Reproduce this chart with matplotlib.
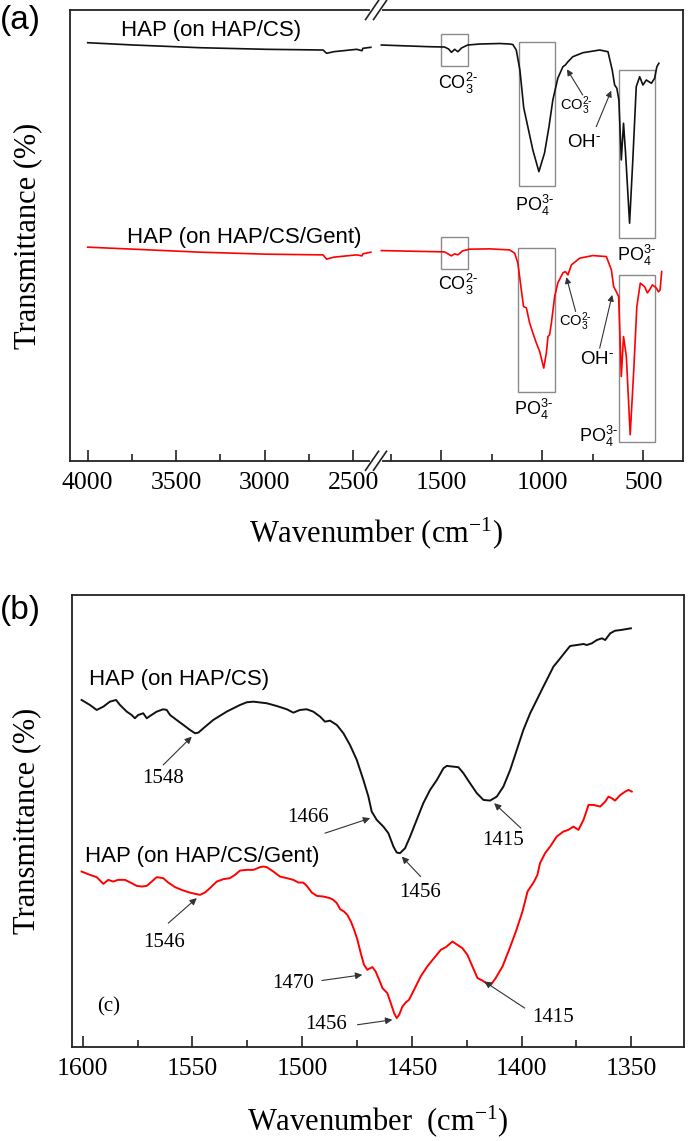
import numpy as np
import matplotlib
matplotlib.use('Agg')
import matplotlib.pyplot as plt
from matplotlib.patches import Rectangle

serif = ['Liberation Serif', 'DejaVu Serif']
sans = ['Liberation Sans', 'DejaVu Sans']
plt.rcParams['font.family'] = serif
plt.rcParams['mathtext.fontset'] = 'custom'
plt.rcParams['mathtext.rm'] = 'Liberation Serif'
plt.rcParams['mathtext.sf'] = 'Liberation Sans'
plt.rcParams['mathtext.it'] = 'Liberation Serif:italic'
plt.rcParams['mathtext.bf'] = 'Liberation Serif:bold'

# ---------------- panel (a): full FTIR spectra (transmittance, a.u.) ----------------
# high wavenumber part (left of the axis break)
wn_a_hi = [4000, 3740, 3365, 2990, 2670, 2650, 2610, 2480, 2450, 2445, 2400]
cs_a_hi = [418.3, 416, 413.3, 411.7, 411, 407.7, 409.3, 411.7, 410.3, 412.7, 413.7]
gent_a_hi = [213.7, 211.7, 208.7, 206.7, 206, 201.7, 203.7, 206, 205, 207, 208.7]

# low wavenumber part (right of the axis break)
wn_cs_lo = [1797, 1558, 1484, 1464, 1450, 1434, 1418, 1400, 1370, 1310, 1211, 1162,
            1146, 1129, 1111, 1092, 1079, 1047, 1017, 989, 967, 948, 923, 898, 886,
            873, 849, 799, 716, 675, 654, 642, 631, 621, 609, 598, 588, 568, 552,
            535, 518, 502, 485, 460, 444, 433, 423]
cs_lo = [416, 414.3, 414, 412, 408.7, 411.7, 409.3, 413, 416, 417, 417.5, 417,
         416.5, 411, 391, 353, 341, 311, 289.3, 308, 334.3, 361, 383, 394.3, 396,
         399.3, 404.3, 408.3, 411, 409.3, 391, 376, 372.7, 361, 301, 337.7, 308,
         237.7, 301, 374.3, 384.3, 376, 381, 377.7, 382.7, 394.3, 397.7]

wn_gent_lo = [1797, 1558, 1484, 1450, 1434, 1418, 1395, 1360, 1261, 1162, 1137, 1121,
              1104, 1093, 1079, 1063, 1047, 1030, 1013, 993, 980, 972, 964, 955, 939,
              923, 898, 886, 873, 856, 815, 750, 683, 658, 647, 634, 622, 609, 598,
              584, 565, 548, 532, 515, 494, 480, 469, 455, 436, 425, 417, 409]
gent_lo = [210.3, 209.3, 209, 205, 207, 206, 210, 211.7, 212, 211, 207.7, 197.7,
           171, 154.3, 153, 138, 128, 118, 109.3, 92.7, 108, 124.3, 126, 138, 164.3,
           178, 188, 189.3, 186, 196, 202.7, 205.3, 204.3, 191, 174.3, 169.3, 164.3,
           84.3, 124.3, 104.3, 26, 88, 154.3, 177.7, 174.3, 168, 171, 176, 173, 169,
           171, 189.3]

# band boxes: (wn left, wn right, T bottom, T top)
boxes_cs = [(1500, 1368, 395.3, 427), (1117, 938, 275, 419.3), (622, 441, 222.7, 391)]
boxes_gent = [(1500, 1368, 192, 223.7), (1121, 939, 68.3, 212.7), (622, 441, 18.3, 186)]

# ---------------- panel (b): 1600-1350 cm-1 region ----------------
wn_b_cs = [1600.5, 1596.7, 1593.6, 1590.6, 1587.6, 1584.8, 1583, 1579.9, 1577.7, 1576.2,
           1574.7, 1572.4, 1570.8, 1569.3, 1566.3, 1563.3, 1561.7, 1560.2, 1557.2, 1554.1,
           1551.1, 1548.8, 1547.3, 1545, 1540.5, 1534.4, 1528.3, 1525.2, 1522.2, 1516.1,
           1511.6, 1507, 1504, 1501, 1497.9, 1494.9, 1491.8, 1489.6, 1487.3, 1484.2,
           1481.2, 1478.2, 1475.1, 1472.1, 1469.8, 1468.3, 1466, 1463, 1460.7, 1458.4,
           1456.9, 1455.4, 1453.1, 1450.8, 1447.8, 1444.8, 1441.7, 1438.6, 1435.6, 1434.1,
           1431.1, 1428.8, 1426.5, 1423.5, 1420.4, 1417.4, 1414.4, 1411.3, 1408.3, 1405.2,
           1402.2, 1399.2, 1396.1, 1393.1, 1390.1, 1385.5, 1382.4, 1379.4, 1377.9, 1374.8,
           1371.8, 1370.3, 1368, 1365.7, 1363.4, 1361.9, 1359.6, 1357.4, 1354.8, 1350.2]
t_b_cs = [347, 342, 337, 340.3, 345.3, 347, 342, 335.3, 332, 328.7,
          332, 333.7, 328.7, 331, 335.3, 337.7, 337, 332, 327, 322,
          317, 313.7, 314.3, 318.7, 327, 335.3, 342, 344.7, 345.3, 343.7,
          341, 337.7, 334.3, 337, 337.7, 335.3, 330.3, 325.3, 326.3, 322,
          313.7, 302, 287, 267, 250.3, 235.3, 227, 220.3, 213.7, 200.3,
          194.3, 193.7, 198.7, 210.3, 227, 243.7, 257, 267, 278.7, 281,
          280.3, 279.7, 273.7, 263.7, 253.7, 247, 246.3, 250.3, 260.3, 277,
          297, 317, 333.7, 347, 360.3, 380.3, 388.7, 397, 401, 402,
          403, 402, 403.7, 407, 408.7, 407, 413.7, 416.3, 417, 418.7]

wn_b_gent = [1600.5, 1596.7, 1593.6, 1590.6, 1588.3, 1586.1, 1583.8, 1580.7, 1577.7, 1575.4,
             1573.1, 1570.8, 1568.5, 1566.3, 1563.3, 1561, 1557.9, 1554.9, 1551.9, 1548.8,
             1546.5, 1544.3, 1542, 1538.9, 1535.9, 1532.9, 1530.6, 1528.3, 1525.2, 1522.2,
             1519.2, 1517.7, 1516.1, 1513.1, 1510.1, 1507, 1504, 1501.7, 1499.5, 1497.9,
             1495.6, 1493.3, 1490.3, 1487.3, 1485.8, 1484.2, 1482.7, 1480.9, 1479.4, 1477.8,
             1476.3, 1474.8, 1473.3, 1471.8, 1470.3, 1468, 1466.5, 1464.9, 1463.4, 1461.2,
             1459.6, 1458.1, 1456.9, 1455.8, 1454.3, 1452.8, 1451.3, 1449, 1446, 1443,
             1439.9, 1436.8, 1434.5, 1431.5, 1429.3, 1427, 1424.7, 1422.4, 1420.1, 1417.9,
             1415.6, 1414, 1411.8, 1408.7, 1405.7, 1402.6, 1399.6, 1397.3, 1394.3, 1392.8,
             1391.6, 1389.3, 1387, 1384, 1381, 1378.7, 1376.4, 1374.1, 1371.8, 1369.5,
             1367.3, 1364.2, 1361.9, 1360.4, 1358.9, 1357.4, 1355, 1352.8, 1351.3, 1349.8]
t_b_gent = [175.3, 172, 169.7, 163, 167, 165.3, 167, 167, 163.7, 161,
            160.3, 161, 165.3, 169.7, 168.7, 164.3, 159.7, 157, 154.7, 153,
            152, 154.3, 158.7, 165.3, 167.7, 168.7, 172, 176.3, 177, 177,
            179.7, 180.3, 179.7, 175.3, 170.3, 168.7, 167, 164.3, 164.3, 161,
            154.3, 151, 150.3, 148.7, 147, 143.7, 137.7, 135.3, 132, 125.3,
            117, 107, 93.7, 82, 77, 79.7, 75.3, 67, 58.7, 53.7,
            43.7, 33.7, 28.7, 32, 40.3, 44.3, 47, 57, 70.3, 80.3,
            88.7, 97, 99.7, 105.3, 102, 98.7, 92, 80.3, 68.7, 66.3,
            63, 62, 68.7, 80.3, 97, 115.3, 135.3, 155.3, 165.3, 172,
            183.7, 193.7, 200.3, 210.3, 215.3, 217, 220.3, 217, 227, 242,
            242, 240.3, 245.3, 250.3, 248.7, 246.3, 252, 255.3, 257, 255.3]

# peak labels in (b): text, text position, arrow start, arrow tip
peak_text = ['1548', '1466', '1456', '1415', '1546', '1470', '1456', '1415']
peak_text_xy = [(1563.6, 268), (1497.5, 229.5), (1446.3, 154), (1408.3, 206),
                (1562.9, 104.5), (1504, 63.7), (1489.2, 22), (1385.6, 29)]
peak_arrow_from = [(1563.3, 282), (1489.6, 213.7), (1446, 170.3), (1400.3, 218.7),
                   (1561, 123.7), (1491, 66.3), (1474.8, 22), (1398.6, 38.7)]
peak_arrow_to = [(1550.3, 310.3), (1469, 228.7), (1454.6, 190.3), (1412.5, 243.7),
                 (1548, 148.7), (1472.6, 72), (1458.9, 27), (1417, 65.3)]


# broken wavenumber axis for (a): 4100-2390 and 1840-305 on one axis
def fwd(w):
    w = np.asarray(w, dtype=float)
    lo = (np.minimum(w, 1840) - 305) * 0.202
    hi = 310.1 + (np.maximum(w, 2390) - 2390) * 0.177
    return np.where(w < 2115, lo, hi)


def inv(u):
    u = np.asarray(u, dtype=float)
    return np.where(u < 310.1, 305 + u / 0.202, 2390 + (u - 310.1) / 0.177)


black = '#111111'
red = '#ff0000'
boxc = '#8a8a8a'
arrc = '#333333'

fig = plt.figure(figsize=(6.88, 11.41), dpi=100)
ax1 = fig.add_axes([0.1017, 0.5962, 0.8906, 0.395])
ax2 = fig.add_axes([0.1042, 0.0826, 0.890, 0.3959])

# ---- panel (a) ----
ax1.set_xscale('function', functions=(fwd, inv))
ax1.plot(wn_a_hi, cs_a_hi, color=black, lw=1.2)
ax1.plot(wn_cs_lo, cs_lo, color=black, lw=1.2)
ax1.plot(wn_a_hi, gent_a_hi, color=red, lw=1.2)
ax1.plot(wn_gent_lo, gent_lo, color=red, lw=1.2)
for (w0, w1, t0, t1) in boxes_cs + boxes_gent:
    ax1.add_patch(Rectangle((w1, t0), w0 - w1, t1 - t0, fill=False,
                            edgecolor=boxc, lw=1.0))
ax1.set_xlim(4100, 305)
ax1.set_ylim(0, 451)
ax1.set_xticks([4000, 3500, 3000, 2500, 1500, 1000, 500])
ax1.set_xticks([3750, 3250, 2750, 1750, 1250, 750], minor=True)
ax1.set_xticklabels(['4000', '3500', '3000', '2500', '1500', '1000', '500'])
ax1.xaxis.set_minor_formatter(matplotlib.ticker.NullFormatter())

# ---- panel (b) ----
ax2.plot(wn_b_cs, t_b_cs, color=black, lw=1.4)
ax2.plot(wn_b_gent, t_b_gent, color=red, lw=1.4)
ax2.set_xlim(1605, 1326)
ax2.set_ylim(0, 452)
ax2.set_xticks([1600, 1550, 1500, 1450, 1400, 1350])
ax2.set_xticks([1575, 1525, 1475, 1425, 1375], minor=True)
ax2.set_xticklabels(['1600', '1550', '1500', '1450', '1400', '1350'])

for ax in (ax1, ax2):
    for s in ax.spines.values():
        s.set_linewidth(1.3)
        s.set_color('#222222')
    ax.tick_params(axis='x', which='both', direction='in', top=False, pad=8,
                   labelsize=18.5, width=1.2, color='#222222',
                   labelfontfamily='Liberation Serif')
    ax.tick_params(axis='x', which='major', length=8)
    ax.tick_params(axis='x', which='minor', length=5)
    ax.tick_params(axis='y', which='both', left=False, labelleft=False)

# axis break marks
for yb in (0, 1):
    ax1.plot([0.493, 0.506], [yb, yb], color='white', lw=3, transform=ax1.transAxes,
             clip_on=False, zorder=5)
    for xc in (0.493, 0.506):
        ax1.plot([xc - 0.0106, xc + 0.0106], [yb - 0.021, yb + 0.021], color='#222222',
                 lw=1.2, transform=ax1.transAxes, clip_on=False, zorder=6)

ax1.text(3814, 431, 'HAP (on HAP/CS)', family=sans, fontsize=16, ha='left', va='center')
ax1.text(3780, 223, 'HAP (on HAP/CS/Gent)', family=sans, fontsize=16, ha='left', va='center')

co3 = r'$\mathsf{CO_3^{2\text{-}}}$'
po4 = r'$\mathsf{PO_4^{3\text{-}}}$'
oh = r'$\mathsf{OH^{\text{-}}}$'
ion_labels = [(1417, 378, co3, 13), (1038, 255, po4, 13), (830, 355, co3, 10.5),
              (795, 318, oh, 13.5), (533, 205, po4, 13),
              (1419, 176, co3, 13), (1043, 51, po4, 13), (838, 139, co3, 10.5),
              (731, 101, oh, 13.5), (721, 24.3, po4, 13)]
for (w, t, s, fs) in ion_labels:
    ax1.text(w, t, s, fontsize=fs, ha='center', va='center')

ion_arrows = [((800, 366), (878, 391.7)), ((733, 334.3), (659, 370.3)),
              ((835, 149.3), (881, 183.7)), ((716, 112.7), (654, 166))]
for (p0, p1) in ion_arrows:
    ax1.annotate('', xy=p1, xytext=p0,
                 arrowprops=dict(arrowstyle='-|>', color=arrc, lw=0.8,
                                 mutation_scale=9, shrinkA=0, shrinkB=0))

ax1.set_xlabel(r'Wavenumber (cm$^{-1}$)', fontsize=22)
ax1.xaxis.set_label_coords(0.5, -0.12)
ax1.set_ylabel('Transmittance (%)', fontsize=22)
ax1.yaxis.set_label_coords(-0.045, 0.5)

ax2.text(1597, 367, 'HAP (on HAP/CS)', family=sans, fontsize=16, ha='left', va='center')
ax2.text(1599, 190, 'HAP (on HAP/CS/Gent)', family=sans, fontsize=16, ha='left', va='center')
ax2.text(1588.3, 40, '(c)', fontsize=15, ha='center', va='center')

for s, pt, p0, p1 in zip(peak_text, peak_text_xy, peak_arrow_from, peak_arrow_to):
    ax2.text(pt[0], pt[1], s, fontsize=15, ha='center', va='center')
    ax2.annotate('', xy=p1, xytext=p0,
                 arrowprops=dict(arrowstyle='-|>', color=arrc, lw=0.8,
                                 mutation_scale=10, shrinkA=0, shrinkB=0))

ax2.set_xlabel(r'Wavenumber  (cm$^{-1}$)', fontsize=22)
ax2.xaxis.set_label_coords(0.5, -0.126)
ax2.set_ylabel('Transmittance (%)', fontsize=22)
ax2.yaxis.set_label_coords(-0.05, 0.5)

fig.text(20 / 688, 1 - 20 / 1141, '(a)', family=sans, fontsize=24, ha='center', va='center')
fig.text(20 / 688, 1 - 610 / 1141, '(b)', family=sans, fontsize=24, ha='center', va='center')

fig.savefig('out.png', dpi=100)
